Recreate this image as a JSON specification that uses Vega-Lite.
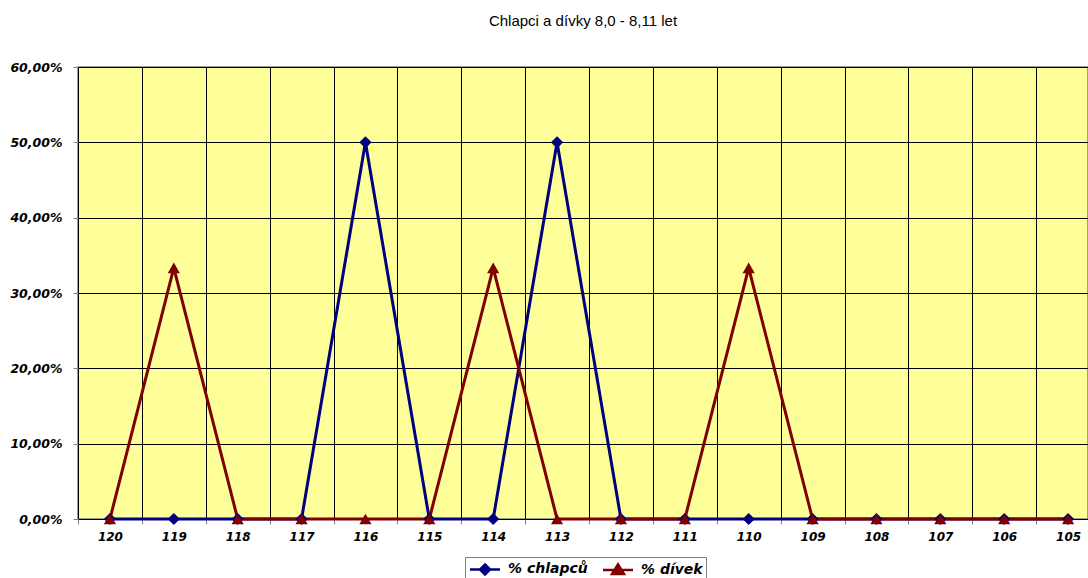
{
  "$schema": "https://vega.github.io/schema/vega-lite/v6.json",
  "autosize": "none",
  "width": 1010,
  "height": 452,
  "padding": {"left": 78, "top": 67, "right": 0, "bottom": 59},
  "background": "white",
  "title": {"text": "Chlapci a dívky 8,0 - 8,11 let", "font": "Liberation Sans", "fontSize": 15, "fontWeight": "normal", "color": "#000000", "offset": 32, "anchor": "middle"},
  "config": {
    "view": {"fill": "#FFFF99", "stroke": "#808080", "strokeWidth": 1.5},
    "font": "Liberation Sans"
  },
  "data": {"values": [
    {"kod": "120", "serie": "% chlapců", "hodnota": 0},
    {"kod": "119", "serie": "% chlapců", "hodnota": 0},
    {"kod": "118", "serie": "% chlapců", "hodnota": 0},
    {"kod": "117", "serie": "% chlapců", "hodnota": 0},
    {"kod": "116", "serie": "% chlapců", "hodnota": 0.5},
    {"kod": "115", "serie": "% chlapců", "hodnota": 0},
    {"kod": "114", "serie": "% chlapců", "hodnota": 0},
    {"kod": "113", "serie": "% chlapců", "hodnota": 0.5},
    {"kod": "112", "serie": "% chlapců", "hodnota": 0},
    {"kod": "111", "serie": "% chlapců", "hodnota": 0},
    {"kod": "110", "serie": "% chlapců", "hodnota": 0},
    {"kod": "109", "serie": "% chlapců", "hodnota": 0},
    {"kod": "108", "serie": "% chlapců", "hodnota": 0},
    {"kod": "107", "serie": "% chlapců", "hodnota": 0},
    {"kod": "106", "serie": "% chlapců", "hodnota": 0},
    {"kod": "105", "serie": "% chlapců", "hodnota": 0},
    {"kod": "120", "serie": "% dívek", "hodnota": 0},
    {"kod": "119", "serie": "% dívek", "hodnota": 0.3333},
    {"kod": "118", "serie": "% dívek", "hodnota": 0},
    {"kod": "117", "serie": "% dívek", "hodnota": 0},
    {"kod": "116", "serie": "% dívek", "hodnota": 0},
    {"kod": "115", "serie": "% dívek", "hodnota": 0},
    {"kod": "114", "serie": "% dívek", "hodnota": 0.3333},
    {"kod": "113", "serie": "% dívek", "hodnota": 0},
    {"kod": "112", "serie": "% dívek", "hodnota": 0},
    {"kod": "111", "serie": "% dívek", "hodnota": 0},
    {"kod": "110", "serie": "% dívek", "hodnota": 0.3333},
    {"kod": "109", "serie": "% dívek", "hodnota": 0},
    {"kod": "108", "serie": "% dívek", "hodnota": 0},
    {"kod": "107", "serie": "% dívek", "hodnota": 0},
    {"kod": "106", "serie": "% dívek", "hodnota": 0},
    {"kod": "105", "serie": "% dívek", "hodnota": 0}
  ]},
  "encoding": {
    "x": {
      "field": "kod", "type": "nominal", "sort": null,
      "scale": {"type": "band", "range": [0, 1022], "paddingInner": 0, "paddingOuter": 0},
      "axis": {
        "title": null, "labelAngle": 0, "bandPosition": 0,
        "grid": true, "gridColor": "#000000", "gridOpacity": 1, "gridWidth": 1,
        "domain": false, "ticks": true, "tickBand": "extent", "tickSize": 5, "tickColor": "#808080",
        "labelFont": "DejaVu Sans", "labelFontSize": 12, "labelFontWeight": "bold", "labelFontStyle": "italic",
        "labelColor": "#000000", "labelPadding": 7, "labelOffset": 0
      }
    },
    "y": {
      "field": "hodnota", "type": "quantitative",
      "scale": {"domain": [0, 0.6], "nice": false},
      "axis": {
        "title": null, "values": [0, 0.1, 0.2, 0.3, 0.4, 0.5, 0.6],
        "labelExpr": "replace(format(datum.value, '.2%'), '.', ',')",
        "grid": true, "gridColor": "#000000", "gridOpacity": 1, "gridWidth": 1,
        "domain": false, "ticks": true, "tickSize": 5, "tickColor": "#808080",
        "labelFont": "DejaVu Sans", "labelFontSize": 12.5, "labelFontWeight": "bold", "labelFontStyle": "italic",
        "labelColor": "#000000", "labelPadding": 11
      }
    }
  },
  "layer": [
    {
      "mark": {"type": "line", "strokeWidth": 3, "clip": false},
      "encoding": {
        "color": {
          "field": "serie", "type": "nominal",
          "scale": {"domain": ["% chlapců", "% dívek"], "range": ["#000080", "#800000"]},
          "legend": {
            "title": null, "orient": "none", "direction": "horizontal", "legendX": 387, "legendY": 490,
            "strokeColor": "#808080", "fillColor": "#FFFFFF", "padding": 3,
            "labelFont": "DejaVu Sans", "labelFontSize": 14, "labelFontWeight": "bold", "labelFontStyle": "italic",
            "labelColor": "#000000", "symbolSize": 225, "symbolOffset": 8, "labelOffset": 14, "columnPadding": 10,
            "encode": {
              "symbols": {
                "update": {
                  "shape": {"signal": "datum.value === '% chlapců' ? 'M-2,0L2,0M0,-0.67L0.67,0L0,0.67L-0.67,0Z' : 'M-2,0L2,0M0,-0.75L0.8,0.55L-0.8,0.55Z'"},
                  "stroke": {"signal": "datum.value === '% chlapců' ? '#000080' : '#800000'"},
                  "fill": {"signal": "datum.value === '% chlapců' ? '#000080' : '#800000'"},
                  "strokeWidth": {"value": 2.5},
                  "opacity": {"value": 1},
                  "fillOpacity": {"value": 1},
                  "strokeOpacity": {"value": 1}
                }
              }
            }
          }
        }
      }
    },
    {
      "transform": [{"filter": "datum.serie === '% chlapců'"}],
      "mark": {"type": "point", "filled": true, "shape": "diamond", "color": "#000080", "size": 150, "opacity": 1, "clip": false}
    },
    {
      "transform": [{"filter": "datum.serie === '% dívek'"}],
      "mark": {"type": "point", "filled": true, "shape": "triangle-up", "color": "#800000", "size": 150, "opacity": 1, "clip": false}
    }
  ]
}
